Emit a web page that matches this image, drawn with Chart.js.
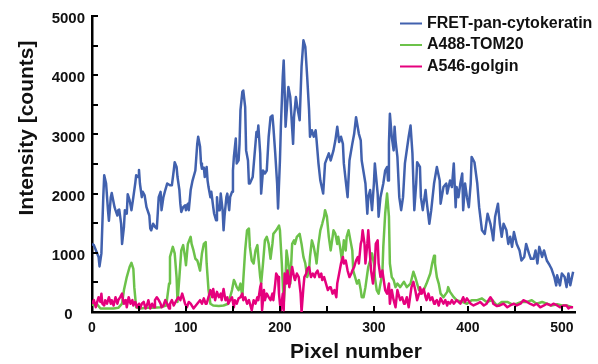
<!DOCTYPE html>
<html>
<head>
<meta charset="utf-8">
<script src="https://cdn.jsdelivr.net/npm/chart.js@4.4.1/dist/chart.umd.min.js"></script>
<style>
  html, body { margin: 0; padding: 0; background: #fff; }
  #wrap { width: 598px; height: 364px; }
</style>
</head>
<body>
<div id="wrap"><canvas id="chart" width="598" height="364"></canvas></div>
<script>
// ─── DATA ───
const SERIES_NAMES = ['FRET-pan-cytokeratin', 'A488-TOM20', 'A546-golgin'];
const X_TITLE = 'Pixel number';
const Y_TITLE = 'Intensity [counts]';

const fretPx = [0,2,5,7,8,10,12,13,15,17,18,20,21,22,24,25,27,28,29,31,
  32,34,35,37,38,40,42,44,46,47,49,50,51,53,54,56,58,61,62,63,
  65,67,69,71,73,74,76,78,80,83,85,87,88,90,91,93,94,95,97,99,
  100,102,103,105,107,110,112,113,115,116,117,119,120,122,123,124,126,127,129,130,
  132,133,134,136,137,139,140,141,143,144,146,147,149,150,151,153,154,156,157,158,
  160,161,163,164,166,167,
  168,171,175,176,177,179,180,182,184,186,188,190,192,193,195,197,198,200,201,203,
  204,205,206,209,211,214,215,217,219,221,223,225,227,229,231,232,234,236,238,239,
  241,243,246,248,252,254,257,259,261,263,265,267,268,270,272,274,277,279,281,284,
  286,287,291,293,294,296,298,300,301,304,305,307,310,312,314,315,316,317,319,321,
  322,323,325,327,329,331,333,337,
  339,341,343,345,346,349,350,352,355,356,359,361,364,367,370,371,374,377,378,381,
  383,385,387,388,390,392,394,395,397,399,401,403,404,407,410,412,415,418,421,424,
  426,427,429,432,434,436,438,441,443,445,447,449,452,455,457,460,462,465,467,470,
  472,474,476,479,481,484,487,489,492,494,495,498,500,503,505,507,509,512];
const fretCounts = [1150,1130,1010,930,770,990,1940,2310,2170,1720,1540,1940,2010,1930,1770,1720,1630,1720,1730,1490,
  1150,1440,1720,1660,1990,1890,1720,1940,2170,2310,2280,2400,2170,1940,2030,1970,1770,1630,1410,1380,
  1490,1440,1410,1940,2030,1720,1940,2060,2170,2140,2140,2390,2530,2450,2280,2060,1830,1690,1770,1800,
  1720,1830,1720,2060,2220,2390,2840,2960,2790,2510,2420,2440,2280,2450,2220,2110,1940,2030,1770,1660,
  1550,1940,1720,1720,2000,1720,1380,1610,1940,2000,1720,1940,2030,2390,2620,2930,2510,2560,2840,3410,
  3720,3740,3460,2730,2560,2170,
  2170,2280,3040,2960,3150,2680,2000,2390,2340,2390,2960,3290,3320,3130,2680,2170,1750,2560,3130,3970,
  4250,3740,3130,3800,3630,2840,3290,3630,3410,3240,4140,4590,4480,3970,3410,2960,3070,2960,3070,2900,
  2510,2220,2000,2510,2680,2560,2730,2900,3130,2870,2960,2840,2510,2220,1940,2560,2840,3010,3290,3010,
  2900,2560,2170,1660,1940,2060,1720,2170,2510,2000,1610,1940,2170,2390,2450,2220,2840,3350,2960,2730,
  3130,2900,2620,1940,1720,1940,2510,2960,
  3150,2680,1720,2170,2530,2450,1940,1720,2060,1890,1490,1720,2170,2450,2220,1830,2110,2170,2000,2220,
  2110,2510,1770,2110,1940,2170,2340,1720,2170,1940,1770,2170,2620,2530,2170,1770,1380,1320,1660,1490,
  1320,1210,1610,1830,1490,1270,1490,1380,1150,1270,1100,1350,1150,1040,870,930,1150,990,900,900,
  1040,820,1100,930,1040,870,790,730,590,450,620,450,650,590,420,650,450,680];

const tomPx = [0,5,9,16,23,28,32,34,37,40,42,44,45,47,51,59,66,73,79,82,
  83,86,88,90,91,93,95,97,99,100,102,105,106,108,110,112,113,115,117,119,
  121,122,124,126,129,135,140,145,149,151,152,154,156,158,160,161,163,165,167,
  168,170,172,174,176,177,179,180,182,184,186,188,190,192,193,196,199,200,202,204,
  206,207,209,211,213,215,216,218,221,223,225,227,229,231,232,234,236,238,239,241,
  243,245,247,248,250,252,254,255,257,259,261,262,264,266,268,270,271,273,275,277,
  278,280,282,284,286,287,289,291,293,294,296,298,300,301,303,305,307,309,310,312,
  314,316,317,319,321,323,325,328,332,
  335,339,342,344,348,353,356,360,362,364,365,367,369,371,374,378,379,381,385,388,
  394,399,404,410,415,420,426,431,436,442,447,452,457,463,468,473,479,484,489,495,
  500,505,511];
const tomCounts = [110,140,60,60,60,70,140,370,590,760,830,730,420,80,60,70,70,80,110,480,
  930,1100,990,590,170,590,1040,1130,930,790,1150,1270,1150,1040,900,870,820,700,990,1150,
  1180,820,370,140,110,100,110,140,370,540,510,420,370,480,250,540,1040,1380,1410,
  1100,870,820,1040,1130,930,590,480,820,1210,1270,1150,900,1150,1320,1380,1460,1380,820,140,
  590,1040,820,480,1150,1210,1150,1270,1320,1150,930,820,590,700,930,1210,1100,930,820,1150,
  1380,1490,1610,1720,1610,1270,1040,1150,1380,1320,1150,1270,1100,870,1210,1040,1270,1380,1210,1040,
  700,590,480,540,370,250,250,420,650,760,870,990,820,590,370,310,480,650,1100,1660,
  2000,1610,820,590,540,420,480,420,510,
  420,480,680,590,370,370,480,650,820,950,820,590,480,310,250,340,420,340,250,200,
  170,140,200,200,230,170,200,110,170,170,130,140,170,170,200,140,170,140,110,130,
  110,110,80];

const golginPx = [0,2,4,5,7,9,10,11,13,14,16,18,20,21,23,25,27,28,30,32,
  33,34,36,37,39,41,43,44,46,48,50,51,53,55,57,59,60,62,64,66,
  67,69,71,73,74,76,78,80,82,83,85,87,89,90,92,94,96,98,99,101,
  103,105,108,112,115,117,119,121,122,124,126,128,129,131,133,135,137,138,140,142,
  144,145,147,149,151,152,154,156,158,160,161,163,165,167,
  170,172,174,176,177,179,180,181,183,184,186,188,190,192,193,195,196,198,199,200,
  201,203,204,205,207,208,209,210,212,213,215,216,218,220,222,223,225,226,228,229,
  231,233,235,237,238,240,242,244,245,247,249,251,253,254,256,258,260,261,263,265,
  267,268,270,272,274,276,277,279,281,283,284,286,287,288,290,291,293,294,295,297,
  299,301,302,304,305,307,309,310,312,314,316,317,319,321,323,325,326,328,330,332,
  333,335,337,
  339,340,342,344,346,348,349,351,353,355,356,358,360,362,364,365,367,369,371,372,
  374,376,378,379,381,383,385,388,392,395,397,399,403,406,410,413,417,420,422,424,
  426,427,431,434,438,442,445,449,452,456,459,463,466,470,473,477,481,484,488,491,
  495,498,502,505,507,509,512];
const golginCounts = [140,200,80,140,250,170,310,140,110,200,140,250,140,200,110,250,140,200,250,310,
  200,140,200,80,250,140,200,110,170,80,140,60,140,170,60,140,200,60,140,80,
  200,250,200,140,80,110,200,140,60,140,200,110,170,200,250,200,310,200,140,80,
  170,140,60,140,200,140,230,140,140,250,370,250,390,200,340,250,310,200,390,200,
  250,140,200,250,80,200,140,230,250,310,200,250,140,200,
  30,200,140,250,200,420,480,30,370,200,310,250,200,310,200,480,650,590,310,140,
  30,310,30,650,480,700,590,420,650,760,590,540,650,590,310,0,420,590,650,730,
  760,590,650,590,650,700,590,650,540,590,480,370,420,420,310,370,250,480,650,820,
  930,820,870,700,590,650,700,760,870,930,820,1150,1210,1380,1150,820,1150,1380,1150,700,
  480,820,1150,1210,820,590,700,590,370,310,480,140,370,200,80,370,310,200,250,140,
  140,250,80,
  310,420,510,370,200,310,420,310,390,250,200,310,200,250,140,170,200,110,230,200,
  140,200,110,170,140,200,140,200,140,250,170,230,140,110,140,170,110,140,200,250,
  200,140,100,110,140,80,110,140,110,140,200,170,140,110,140,80,110,140,110,140,
  110,80,110,110,60,80,80];

const COLORS = ['#4161ae', '#6cc24a', '#e5007d'];
const FONT = "'Liberation Sans', Arial, sans-serif";

Chart.defaults.font.family = FONT;
Chart.defaults.color = '#111';

const toPoints = (xs, ys) => xs.map((x, i) => ({ x, y: ys[i] }));

// ticks inside the axes, titles and the in-plot legend
const axisDecor = {
  id: 'axisDecor',
  afterDraw(chart) {
    const { ctx, chartArea: a, scales: { x, y } } = chart;
    ctx.save();
    ctx.strokeStyle = '#000';
    ctx.lineWidth = 2;
    ctx.beginPath();
    y.ticks.forEach(t => {
      const py = Math.round(y.getPixelForValue(t.value));
      ctx.moveTo(a.left, py); ctx.lineTo(a.left + 6, py);
    });
    x.ticks.forEach(t => {
      if (t.value % 50) return;
      const px = Math.round(x.getPixelForValue(t.value));
      ctx.moveTo(px, a.bottom); ctx.lineTo(px, a.bottom - 6);
    });
    ctx.stroke();

    ctx.fillStyle = '#111';
    ctx.font = 'bold 21px ' + FONT;
    ctx.textAlign = 'center';
    ctx.textBaseline = 'alphabetic';
    ctx.fillText(X_TITLE, 356, 358);
    ctx.save();
    ctx.translate(27, 128);
    ctx.rotate(-Math.PI / 2);
    ctx.textBaseline = 'middle';
    ctx.fillText(Y_TITLE, 0, 0);
    ctx.restore();

    // legend
    ctx.font = 'bold 16px ' + FONT;
    ctx.textAlign = 'left';
    ctx.textBaseline = 'middle';
    ctx.lineWidth = 2;
    SERIES_NAMES.forEach((name, i) => {
      const ly = 23.5 + i * 21.5;
      ctx.strokeStyle = COLORS[i];
      ctx.beginPath();
      ctx.moveTo(400, ly); ctx.lineTo(422, ly);
      ctx.stroke();
      ctx.fillText(name, 427, ly);
    });
    ctx.restore();
  },
};

const lineStyle = (i) => ({
  borderColor: COLORS[i],
  backgroundColor: COLORS[i],
  borderWidth: 2.5,
  borderJoinStyle: 'round',
  pointRadius: 0,
  tension: 0,
  fill: false,
});

new Chart(document.getElementById('chart'), {
  type: 'line',
  data: {
    datasets: [
      { label: SERIES_NAMES[0], data: toPoints(fretPx, fretCounts), order: 2, ...lineStyle(0) },
      { label: SERIES_NAMES[1], data: toPoints(tomPx, tomCounts), order: 1, ...lineStyle(1) },
      { label: SERIES_NAMES[2], data: toPoints(golginPx, golginCounts), order: 0, ...lineStyle(2) },
    ],
  },
  options: {
    responsive: false,
    animation: false,
    devicePixelRatio: 1,
    layout: { padding: { left: 0, right: 23, top: 15, bottom: 0 } },
    plugins: { legend: { display: false }, tooltip: { enabled: false } },
    scales: {
      x: {
        type: 'linear', min: 0, max: 514,
        border: { display: true, color: '#000', width: 2.5 },
        grid: { display: false, drawTicks: false },
        ticks: { stepSize: 50, includeBounds: false, autoSkip: false, maxRotation: 0,
          padding: 8, color: '#111', font: { size: 14, weight: 'bold' },
          callback: v => (v % 100 === 0 ? v : '') },
        afterFit: s => { s.height = 52; },
      },
      y: {
        min: 0, max: 5000,
        border: { display: true, color: '#000', width: 2.5 },
        grid: { display: false, drawTicks: false },
        ticks: { stepSize: 500, autoSkip: false, padding: 7, crossAlign: 'center', labelOffset: 3,
          color: '#111', font: { size: 15, weight: 'bold' },
          callback: v => (v % 1000 === 0 ? v : '') },
        afterFit: s => { s.width = 92; },
      },
    },
  },
  plugins: [axisDecor],
});
</script>
</body>
</html>
